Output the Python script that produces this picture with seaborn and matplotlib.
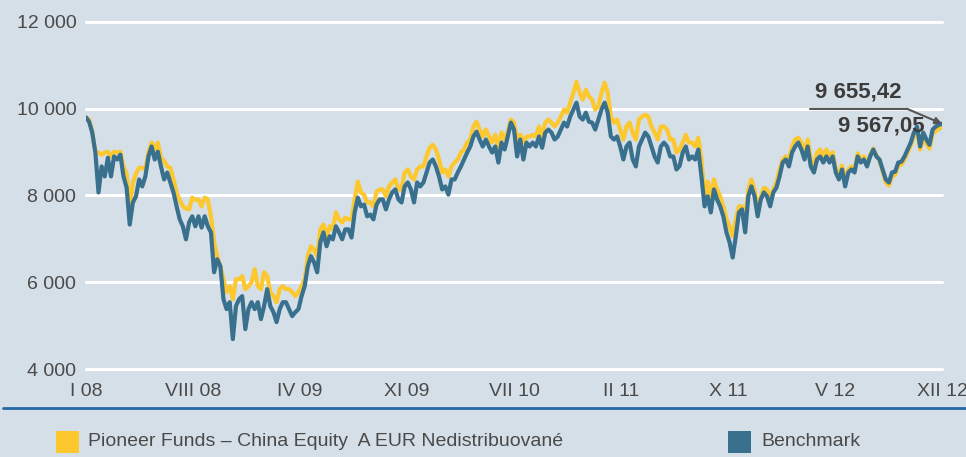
import numpy as np
import matplotlib.pyplot as plt
import matplotlib.transforms as mtransforms
import seaborn as sns
from matplotlib.lines import Line2D
from matplotlib.patches import Rectangle

sns.set_theme(style="white")
plt.rcParams["font.family"] = ["Liberation Sans", "DejaVu Sans"]

# month labels along the bottom (evenly spread over the series)
x_labels = ["I 08", "VIII 08", "IV 09", "XI 09", "VII 10", "II 11", "X 11", "V 12", "XII 12"]
y_ticks = [4000, 6000, 8000, 10000, 12000]

fund_name = "Pioneer Funds – China Equity  A EUR Nedistribuované"
bench_name = "Benchmark"

# values, I 08 .. XII 12
fund = [
    9800, 9750, 9470, 9000, 8990, 8940, 8990, 9010, 8900, 9010,
    8990, 9010, 8670, 8500, 7680, 8300, 8500, 8640, 8640, 8600,
    9000, 9220, 9060, 9220, 8870, 8800, 8670, 8640, 8370, 8070,
    7900, 7750, 7700, 7680, 7950, 7900, 7910, 7750, 7950, 7910,
    7520, 6920, 6600, 6370, 6070, 5770, 5910, 5610, 6070, 6070,
    6140, 5840, 5910, 6000, 6300, 5910, 5840, 6230, 6140, 5770,
    5680, 5540, 5840, 5910, 5840, 5840, 5770, 5680, 5770, 5910,
    6070, 6600, 6830, 6760, 6600, 7220, 7330, 7060, 7290, 7220,
    7610, 7450, 7380, 7490, 7450, 7450, 7910, 8320, 8070, 8020,
    7840, 7840, 7750, 8090, 8140, 8140, 7980, 8210, 8300, 8370,
    8140, 8140, 8530, 8600, 8440, 8370, 8600, 8670, 8670, 8900,
    9100, 9170, 9060, 8830, 8530, 8600, 8440, 8670, 8760, 8830,
    8990, 9060, 9220, 9290, 9590, 9700, 9520, 9360, 9520, 9360,
    9220, 9400, 9130, 9450, 9290, 9470, 9750, 9680, 9290, 9400,
    9220, 9360, 9360, 9400, 9360, 9590, 9360, 9680, 9750, 9680,
    9590, 9680, 9820, 9980, 9910, 10140, 10370, 10620, 10370, 10210,
    10440, 10280, 10210, 9980, 10050, 10370, 10600, 10370, 9820, 9680,
    9750, 9520, 9290, 9590, 9680, 9450, 9290, 9750, 9820, 9860,
    9820, 9590, 9450, 9290, 9590, 9590, 9520, 9290, 9290, 8990,
    9060, 9220, 9400, 9220, 9220, 9130, 9330, 8830, 7980, 8320,
    7910, 8370, 8140, 7980, 7750, 7450, 7290, 7060, 7450, 7750,
    7750, 7450, 8140, 8370, 8140, 7680, 7980, 8180, 8140, 7910,
    8140, 8300, 8600, 8830, 8900, 8830, 9130, 9290, 9330, 9220,
    8990, 9290, 8830, 8670, 8990, 9060, 8900, 9060, 8900, 9000,
    8620, 8460, 8690, 8300, 8600, 8670, 8600, 8970, 8830, 8900,
    8710, 8940, 9080, 8920, 8810, 8550, 8300, 8230, 8440, 8480,
    8690, 8710, 8830, 8990, 9150, 9380, 9520, 9060, 9360, 9200,
    9080, 9430, 9490, 9540, 9567.05,
]

bench = [
    9800, 9700, 9450, 8990, 8070, 8670, 8440, 8870, 8440, 8900,
    8830, 8940, 8440, 8180, 7330, 7840, 7980, 8370, 8210, 8440,
    8900, 9130, 8830, 9010, 8670, 8370, 8530, 8300, 8070, 7750,
    7450, 7290, 6990, 7380, 7520, 7290, 7520, 7260, 7520, 7290,
    7150, 6230, 6530, 6370, 5610, 5380, 5540, 4690, 5450, 5610,
    5680, 4920, 5380, 5540, 5380, 5540, 5150, 5450, 5840, 5450,
    5310, 5080, 5380, 5540, 5540, 5380, 5220, 5310, 5380, 5680,
    5910, 6370, 6600, 6460, 6230, 6920, 7150, 6830, 7060, 6990,
    7290, 7150, 6990, 7220, 7220, 7030, 7610, 7950, 7750, 7790,
    7520, 7560, 7450, 7790, 7910, 7910, 7680, 7910, 8070, 8140,
    7910, 7840, 8210, 8300, 8140, 7840, 8300, 8210, 8300, 8530,
    8760, 8830, 8670, 8440, 8140, 8210, 8020, 8370, 8370, 8530,
    8670, 8830, 8990, 9130, 9360, 9470, 9290, 9130, 9290, 9130,
    8990, 9130, 8760, 9220, 9060, 9360, 9680, 9520, 8900, 9290,
    8830, 9220, 9130, 9220, 9130, 9360, 9100, 9450, 9520, 9450,
    9290, 9360, 9520, 9680, 9590, 9820, 9980, 10140, 9820, 9750,
    9910, 9700, 9680, 9520, 9750, 9980, 10140, 9910, 9360, 9290,
    9360, 9130, 8830, 9130, 9220, 8830, 8670, 9130, 9290, 9450,
    9360, 9130, 8900, 8760, 9130, 9220, 9130, 8900, 8900, 8600,
    8680, 8990, 9130, 8830, 8900, 8830, 9060, 8440, 7750, 7980,
    7610, 8140, 7910, 7750, 7520, 7150, 6920, 6570, 7060, 7610,
    7680, 7150, 7980, 8210, 7980, 7520, 7910, 8070, 7980, 7750,
    8070, 8180, 8440, 8760, 8830, 8670, 8990, 9130, 9220, 9060,
    8830, 9130, 8670, 8530, 8830, 8900, 8760, 8900, 8760, 8900,
    8530, 8370, 8600, 8210, 8530, 8600, 8530, 8900, 8760, 8830,
    8670, 8900, 9060, 8900, 8830, 8600, 8370, 8300, 8530, 8550,
    8760, 8780, 8900, 9060, 9220, 9450, 9590, 9130, 9450, 9290,
    9170, 9520, 9590, 9630, 9655.42,
]

BG = "#d5dfe7"
YELLOW = "#fdc72e"
BLUE = "#38708e"
TEXT = "#4a4a4a"
RULE = "#2468a6"


def fmt(v, dec=0):
    s = f"{v:,.{dec}f}"
    return s.replace(",", " ").replace(".", ",")


idx = np.arange(len(fund))

fig = plt.figure(figsize=(9.66, 4.57), dpi=100, facecolor=BG)
ax = fig.add_axes([86 / 966, 1 - 369 / 457, 856 / 966, 347 / 457])
ax.set_facecolor(BG)

sns.lineplot(x=idx, y=fund, ax=ax, color=YELLOW, lw=3)
sns.lineplot(x=idx, y=bench, ax=ax, color=BLUE, lw=3)

ax.set_xlim(0, len(idx) - 1)
ax.set_ylim(y_ticks[0], y_ticks[-1])
ax.set_yticks(y_ticks)
ax.set_yticklabels([fmt(v) for v in y_ticks])
ax.set_xticks(np.linspace(0, len(idx) - 1, len(x_labels)))
ax.set_xticklabels(x_labels)
ax.yaxis.grid(True, color="white", lw=2.2)
ax.xaxis.grid(False)
for gl in ax.get_ygridlines():
    gl.set_clip_on(False)
ax.set_axisbelow(True)
for s in ax.spines.values():
    s.set_visible(False)
ax.tick_params(length=0, labelsize=14, colors=TEXT)
ax.tick_params(axis="x", pad=10)
ax.tick_params(axis="y", pad=7)

# end-value call-out
tr = mtransforms.blended_transform_factory(ax.transAxes, ax.transData)
ax.plot([0.846, 0.959], [10000, 10000], color="#555555", lw=1.5, transform=tr)
ax.annotate("", xy=(idx[-1], bench[-1]), xytext=(0.959, 10000),
            textcoords=("axes fraction", "data"),
            arrowprops=dict(arrowstyle="-|>", color="#555555", lw=1.5,
                            shrinkA=0, shrinkB=0, mutation_scale=10))
ax.text(0.902, 10390, fmt(bench[-1], 2), transform=tr, ha="center", va="center",
        fontsize=16, fontweight="bold", color="#3c3c3c")
ax.text(0.929, 9610, fmt(fund[-1], 2), transform=tr, ha="center", va="center",
        fontsize=16, fontweight="bold", color="#3c3c3c")

# rule under the axis and legend
fig.add_artist(Line2D([3 / 966, 1], [1 - 408 / 457] * 2, transform=fig.transFigure,
                      color=RULE, lw=2))
fig.add_artist(Rectangle((56 / 966, 1 - 453 / 457), 23 / 966, 22 / 457,
                         transform=fig.transFigure, color=YELLOW, lw=0))
fig.text(88 / 966, 1 - 442 / 457, fund_name, fontsize=14, color=TEXT, va="center")
fig.add_artist(Rectangle((728 / 966, 1 - 453 / 457), 23 / 966, 22 / 457,
                         transform=fig.transFigure, color=BLUE, lw=0))
fig.text(761 / 966, 1 - 442 / 457, bench_name, fontsize=14, color=TEXT, va="center")

fig.savefig("out.png", dpi=100, facecolor=BG)
